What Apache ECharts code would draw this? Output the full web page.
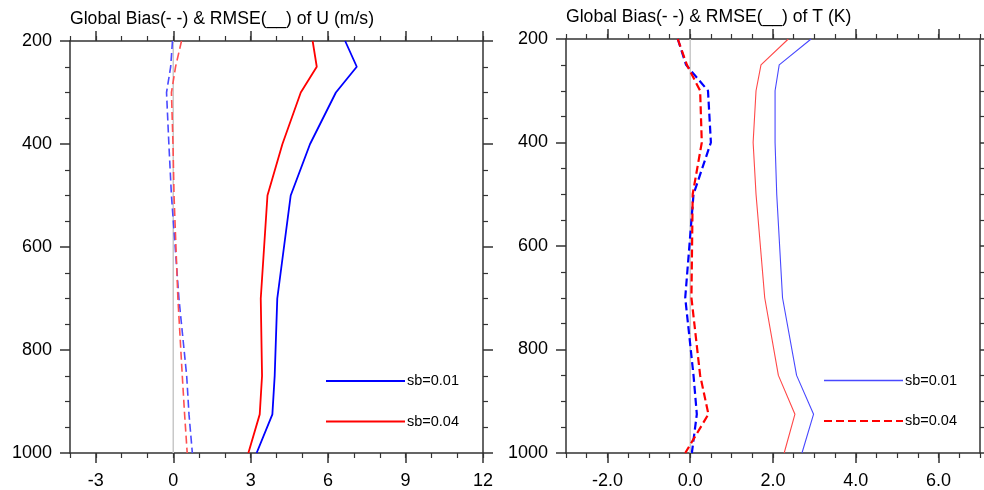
<!DOCTYPE html>
<html><head><meta charset="utf-8">
<script src="https://cdn.jsdelivr.net/npm/echarts@6/dist/echarts.min.js"></script>
<style>html,body{margin:0;padding:0;background:#fff}#c{width:984px;height:490px}</style>
</head><body><div id="c"></div>
<script>
const levels = [200, 250, 300, 400, 500, 700, 850, 925, 1000];
const uRmseSb01 = [6.66, 7.11, 6.30, 5.30, 4.55, 4.03, 3.93, 3.84, 3.23];
const uRmseSb04 = [5.40, 5.56, 4.94, 4.23, 3.65, 3.39, 3.44, 3.35, 2.91];
const uBiasSb01 = [-0.03, -0.10, -0.26, -0.17, -0.07, 0.22, 0.52, 0.61, 0.74];
const uBiasSb04 = [0.32, 0.09, -0.07, -0.01, 0.03, 0.18, 0.35, 0.44, 0.54];
const tRmseSb01 = [2.92, 2.15, 2.05, 2.05, 2.09, 2.23, 2.57, 2.98, 2.70];
const tRmseSb04 = [2.37, 1.71, 1.59, 1.52, 1.59, 1.80, 2.13, 2.53, 2.27];
const tBiasSb01 = [-0.30, -0.10, 0.43, 0.50, 0.08, -0.12, 0.08, 0.16, 0.04];
const tBiasSb04 = [-0.30, -0.08, 0.24, 0.28, 0.06, 0.03, 0.24, 0.44, -0.12];
const uTicks = [-3, 0, 3, 6, 9, 12];
const tTicks = [-2, 0, 2, 4, 6];
const titles = ['Global Bias(- -) & RMSE(__) of U (m/s)', 'Global Bias(- -) & RMSE(__) of T (K)'];
const legendNames = ['sb=0.01', 'sb=0.04'];

const FONT = 'Liberation Sans, Arial, Helvetica, sans-serif';
const AX = '#333333';
const BLUE = '#0000ff', RED = '#ff0000';

function pairs(xs){ return xs.map((v,i)=>[v, levels[i]]); }

function xAxesFor(gi, min, max, step, majors, fmt){
  const base = {gridIndex: gi, type:'value', min, max, splitLine:{show:false}};
  return [
    Object.assign({}, base, {position:'bottom', interval: step,
      axisLine:{show:true, onZero:false, lineStyle:{color:AX, width:1.5}},
      axisTick:{show:true, customValues: majors, length:10, lineStyle:{color:AX, width:1.5}},
      axisLabel:{show:true, customValues: majors, formatter: fmt, fontSize:18, color:'#000', fontFamily:FONT, margin:19}}),
    Object.assign({}, base, {position:'bottom', interval: step,
      axisLine:{show:false, onZero:false},
      axisTick:{show:true, length:5, lineStyle:{color:AX, width:1.2}},
      axisLabel:{show:false}}),
    Object.assign({}, base, {position:'top', interval: step,
      axisLine:{show:true, onZero:false, lineStyle:{color:AX, width:1.5}},
      axisTick:{show:true, customValues: majors, length:10, lineStyle:{color:AX, width:1.5}},
      axisLabel:{show:false}}),
    Object.assign({}, base, {position:'top', interval: step,
      axisLine:{show:false, onZero:false},
      axisTick:{show:true, length:5, lineStyle:{color:AX, width:1.2}},
      axisLabel:{show:false}})
  ];
}
function yAxesFor(gi){
  const base = {gridIndex: gi, type:'value', min:200, max:1000, interval:200, inverse:true, splitLine:{show:false},
    minorTick:{show:true, splitNumber:4, length:5, lineStyle:{color:AX, width:1.2}}};
  return [
    Object.assign({}, base, {position:'left',
      axisLine:{show:true, onZero:false, lineStyle:{color:AX, width:1.5}},
      axisTick:{show:true, length:10, lineStyle:{color:AX, width:1.5}},
      axisLabel:{show:true, fontSize:18, color:'#000', fontFamily:FONT, margin:18, formatter: v => String(v)}}),
    Object.assign({}, base, {position:'right',
      axisLine:{show:true, onZero:false, lineStyle:{color:AX, width:1.5}},
      axisTick:{show:true, length:10, lineStyle:{color:AX, width:1.5}},
      axisLabel:{show:false}})
  ];
}

const xAxis = [].concat(
  xAxesFor(0, -4, 12, 1, uTicks, v => String(v)),
  xAxesFor(1, -3, 7, 0.5, tTicks, v => Number(v).toFixed(1))
);
const yAxis = [].concat(yAxesFor(0), yAxesFor(1));

function line(name, xi, yi, vals, color, width, dashed){
  return {name, type:'line', xAxisIndex:xi, yAxisIndex:yi, data: pairs(vals), symbol:'none',
    silent:true, animation:false,
    lineStyle:{color, width, type: dashed ? [8,4] : 'solid'}, z:3};
}
function zeroLine(xi, yi){
  return {type:'line', xAxisIndex:xi, yAxisIndex:yi, data:[[0,levels[0]],[0,levels[levels.length-1]]],
    symbol:'none', silent:true, animation:false, lineStyle:{color:'#c8c8c8', width:1.5}, z:2};
}

const series = [
  zeroLine(0,0),
  line('U bias sb=0.01', 0, 0, uBiasSb01, '#4a4aff', 1.6, true),
  line('U bias sb=0.04', 0, 0, uBiasSb04, '#ff5050', 1.6, true),
  line('U rmse sb=0.01', 0, 0, uRmseSb01, BLUE, 1.8, false),
  line('U rmse sb=0.04', 0, 0, uRmseSb04, RED, 1.8, false),
  zeroLine(4,2),
  line('T bias sb=0.01', 4, 2, tBiasSb01, BLUE, 2.2, true),
  line('T bias sb=0.04', 4, 2, tBiasSb04, RED, 2.2, true),
  line('T rmse sb=0.01', 4, 2, tRmseSb01, '#4848ff', 1.1, false),
  line('T rmse sb=0.04', 4, 2, tRmseSb04, '#ff4848', 1.1, false)
];

function legendItems(x0, x1, tx, ys, styles){
  const out = [];
  ys.forEach((y,i)=>{
    out.push({type:'line', shape:{x1:x0, y1:y, x2:x1, y2:y}, style:styles[i], silent:true});
    out.push({type:'text', x:tx, y:y, style:{text:legendNames[i], fontSize:14.5, fontFamily:FONT, fill:'#000', textVerticalAlign:'middle', verticalAlign:'middle'}, silent:true});
  });
  return out;
}

const graphic = [].concat(
  legendItems(326, 405, 407, [381, 421.5], [
    {stroke:BLUE, lineWidth:2}, {stroke:RED, lineWidth:2}]),
  legendItems(824, 903, 905, [380.5, 421], [
    {stroke:'#4848ff', lineWidth:1.3}, {stroke:RED, lineWidth:2, lineDash:[8,4]}])
);

const option = {
  animation:false,
  backgroundColor:'#fff',
  title:[
    {text:titles[0], left:70, top:10, padding:0, textStyle:{fontSize:17.6, fontWeight:'normal', color:'#000', fontFamily:FONT}},
    {text:titles[1], left:566, top:8, padding:0, textStyle:{fontSize:17.6, fontWeight:'normal', color:'#000', fontFamily:FONT}}
  ],
  grid:[
    {left:70, top:41, width:413, height:412},
    {left:566, top:39, width:414, height:414}
  ],
  xAxis, yAxis, series, graphic
};
const chart = echarts.init(document.getElementById('c'), null, {renderer:'canvas'});
chart.setOption(option);
</script></body></html>
